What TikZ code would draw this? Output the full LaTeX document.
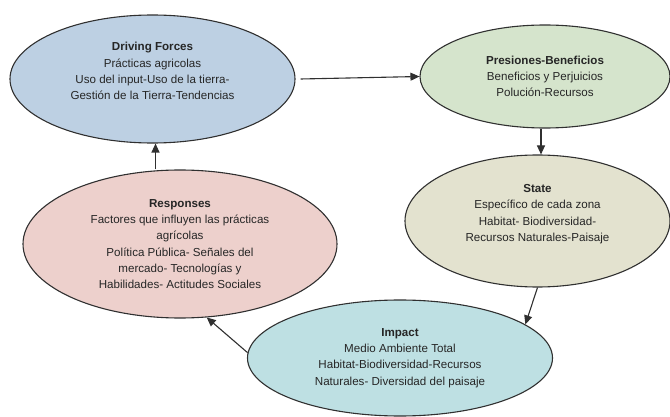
\documentclass[tikz,border=0pt]{standalone}
\usepackage{fontspec}
\setmainfont{Liberation Sans}
\usetikzlibrary{shapes.geometric,arrows.meta}
\definecolor{dfblue}{HTML}{BDD0E3}
\definecolor{pbgreen}{HTML}{D5E4CC}
\definecolor{stbeige}{HTML}{E3E2CF}
\definecolor{rspink}{HTML}{EDD0CC}
\definecolor{imcyan}{HTML}{BEE0E3}
\definecolor{edgegray}{HTML}{303030}
\begin{document}
\begin{tikzpicture}[x=1pt,y=-1pt,
    blob/.style={ellipse,draw=edgegray,line width=1.1pt,inner sep=0pt,align=center,
                 text=black!85,font=\fontsize{11.6}{16.2}\selectfont},
    arr/.style={line width=1.1pt,draw=edgegray,-{Triangle[length=9pt,width=8pt]}}]
                    \useasboundingbox (0,0) rectangle (670,417);
                    
                    % Drawing ellipse Driving Forces
                    \node [blob,fill=dfblue,minimum width=285pt,minimum height=128pt] (df) at (152.5,79)
                      {\textbf{Driving Forces}\\Prácticas agricolas\\Uso del input-Uso de la tierra-\\Gestión de la Tierra-Tendencias\\~};%
                    
                    % Drawing ellipse Presiones-Beneficios
                    \node [blob,fill=pbgreen,minimum width=250pt,minimum height=103pt] (pb) at (545,76.5)
                      {\textbf{Presiones-Beneficios}\\Beneficios y Perjuicios\\Polución-Recursos};%
                    
                    % Drawing ellipse State
                    \node [blob,fill=stbeige,minimum width=265pt,minimum height=132pt] (st) at (537.5,221)
                      {\textbf{State}\\Específico de cada zona\\Habitat- Biodiversidad-\\Recursos Naturales-Paisaje\\~};%
                    
                    % Drawing ellipse Responses
                    \node [blob,fill=rspink,minimum width=314pt,minimum height=148pt] (rs) at (180,244)
                      {\textbf{Responses}\\Factores que influyen las prácticas\\agrícolas\\Política Pública- Señales del\\mercado- Tecnologías y\\Habilidades- Actitudes Sociales};%
                    
                    % Drawing ellipse Impact
                    \node [blob,fill=imcyan,minimum width=305pt,minimum height=116pt] (im) at (400,358)
                      {\textbf{Impact}\\Medio Ambiente Total\\Habitat-Biodiversidad-Recursos\\Naturales- Diversidad del paisaje};%
                    
                    % Drawing arrow df pb
                    \draw [arr] ([xshift=5pt]df.east) -- (pb.west);%
                    
                    % Drawing arrow pb st
                    \draw [arr] ([xshift=-4pt]pb.south) -- ([xshift=-4pt]pb.south |- st.north);%
                    
                    % Drawing arrow st im
                    \draw [arr] (st.south) -- (im.15);%
                    
                    % Drawing arrow im rs
                    \draw [arr] (im.178) -- (rs.-70);%
                    
                    % Drawing arrow rs df
                    \draw [arr] ([xshift=3pt]df.south |- rs.north) -- ([xshift=3pt]df.south);%
                \end{tikzpicture}
\end{document}
